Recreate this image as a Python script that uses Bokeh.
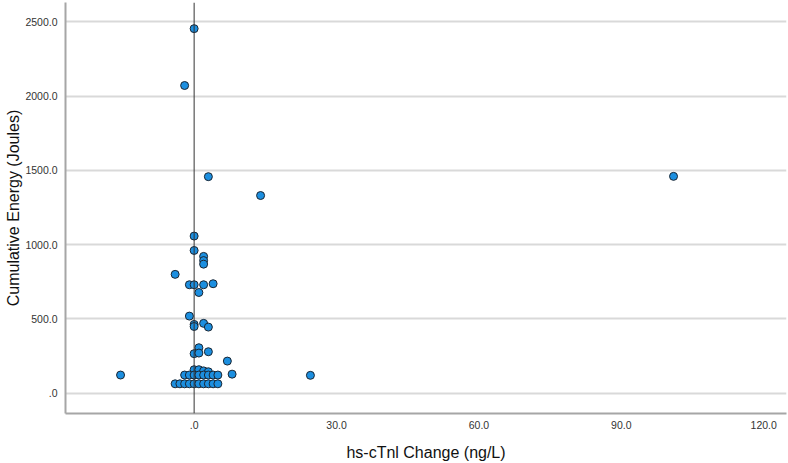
from bokeh.plotting import figure
from bokeh.models import Span, FixedTicker, CustomJSTickFormatter, Range1d
from bokeh.embed import file_html
from bokeh.resources import INLINE

# hs-cTnI change (ng/L)
x_change = [0, -2, 3, 14, 101, 24.5, -15.5,
            0, 0, 2, 2, 2, -4,
            -1, 0, 2, 4, 1, -1,
            0, 0, 2, 3,
            1, 0, 1, 3, 7, 8,
            0, 1, 2, 3,
            -2, -1, 0, 1, 2, 3, 4, 5,
            -4, -3, -2, -1, 0, 1, 2, 3, 4, 5]
# Cumulative energy (Joules)
y_energy = [2455, 2072, 1458, 1331, 1460, 120, 122,
            1058, 961, 921, 893, 869, 800,
            730, 730, 730, 737, 678, 519,
            463, 449, 470, 445,
            306, 266, 270, 279, 216, 128,
            158, 158, 150, 144,
            122, 122, 122, 122, 122, 122, 122, 122,
            63, 63, 63, 63, 63, 63, 63, 63, 63, 63]

x_ticks = [0, 30, 60, 90, 120]
y_ticks = [0, 500, 1000, 1500, 2000, 2500]

FONT = "Liberation Sans"

p = figure(width=788, height=463, output_backend="svg", toolbar_location=None,
           x_range=Range1d(-27.1, 124.8), y_range=Range1d(-137, 2631),
           min_border_left=65, min_border_right=2, min_border_top=2, min_border_bottom=50)
p.outline_line_color = None
p.background_fill_color = "white"

p.xgrid.grid_line_color = None
p.ygrid.grid_line_color = "#d9d9d9"
p.ygrid.grid_line_width = 2
p.ygrid.ticker = FixedTicker(ticks=y_ticks)

fmt = CustomJSTickFormatter(code="""
    var s = tick.toFixed(1);
    if (s === "0.0") { s = ".0"; }
    return s;
""")

for ax in (p.xaxis[0], p.yaxis[0]):
    ax.major_tick_out = 0
    ax.major_tick_in = 0
    ax.minor_tick_out = 0
    ax.minor_tick_in = 0
    ax.axis_line_color = "#a6a6a6"
    ax.axis_line_width = 2
    ax.major_label_text_font = FONT
    ax.major_label_text_font_size = "10.5px"
    ax.major_label_text_color = "#333333"
    ax.axis_label_text_font = FONT
    ax.axis_label_text_font_style = "normal"
    ax.axis_label_text_color = "#111111"
    ax.formatter = fmt

p.xaxis.ticker = FixedTicker(ticks=x_ticks)
p.yaxis.ticker = FixedTicker(ticks=y_ticks)
p.xaxis.axis_label = "hs-cTnl Change (ng/L)"
p.yaxis.axis_label = "Cumulative Energy (Joules)"
p.xaxis.axis_label_text_font_size = "16px"
p.yaxis.axis_label_text_font_size = "16px"
p.xaxis.major_label_standoff = 7
p.yaxis.major_label_standoff = 8
p.xaxis.axis_label_standoff = 12
p.yaxis.axis_label_standoff = 0

zero_line = Span(location=x_ticks[0], dimension="height", line_color="#333333", line_width=1)
p.add_layout(zero_line)

p.scatter(x_change, y_energy, size=8, fill_color="#1c8fe0", line_color="#1a2633", line_width=1)

open("out.html", "w").write(file_html(p, INLINE))
